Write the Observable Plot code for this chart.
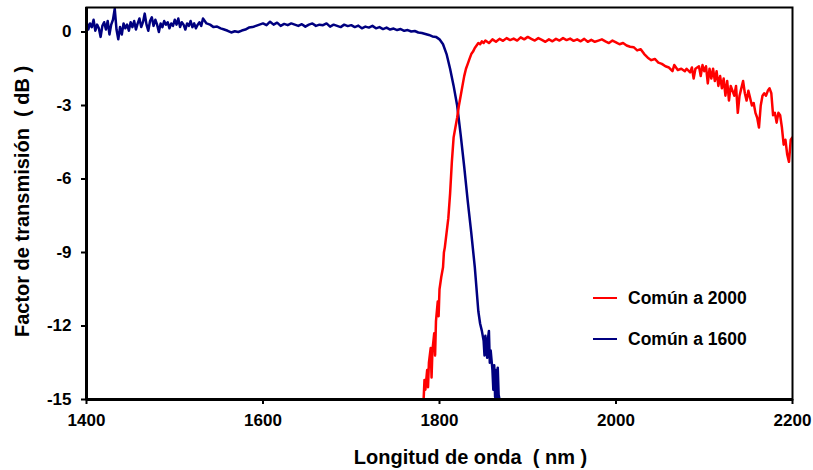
<!DOCTYPE html>
<html>
<head>
<meta charset="utf-8">
<script src="https://cdn.jsdelivr.net/npm/d3@7"></script>
<script src="https://cdn.jsdelivr.net/npm/@observablehq/plot@0.6"></script>
<style>
  html, body { margin: 0; padding: 0; background: white; }
  #wrap { position: relative; width: 813px; height: 470px; font-family: "Liberation Sans", Arial, sans-serif; font-weight: bold; }
  .leg { position: absolute; left: 593px; height: 20px; display: flex; align-items: center; font-size: 17.5px; color: #000; white-space: nowrap; }
  .leg span.sw { display: inline-block; width: 24px; height: 2.5px; margin-right: 11px; }
</style>
</head>
<body>
<div id="wrap"></div>
<script>
const seriesNames = ["Común a 2000", "Común a 1600"];
const xTicks = [1400, 1600, 1800, 2000, 2200];
const yTicks = [0, -3, -6, -9, -12, -15];
const xTitle = "Longitud de onda  ( nm )";
const yTitle = "Factor de transmisión  ( dB )";

// Común a 1600 (blue)
const blueX = [1400,1402,1404,1406,1408,1410,1412,1414,1416,1418,1420,1422,1424,1426,1428,1430,1432,1434,1436,1438,1440,1442,1444,1446,1448,1450,1452,1454,1456,1458,1460,1462,1464,1466,1468,1470,1472,1474,1476,1478,1480,1482,1484,1486,1488,1490,1492,1494,1496,1498,1500,1502,1504,1506,1508,1510,1512,1514,1516,1518,1520,1522,1524,1526,1528,1530,1532,1534,1536,1540,1544,1548,1552,1556,1560,1564,1568,1572,1576,1580,1584,1588,1592,1596,1600,1604,1608,1612,1616,1620,1624,1628,1632,1636,1640,1644,1648,1652,1656,1660,1664,1668,1672,1676,1680,1684,1688,1692,1696,1700,1704,1708,1712,1716,1720,1724,1728,1732,1736,1740,1744,1748,1752,1756,1760,1764,1768,1772,1776,1780,1784,1788,1792,1796,1800,1804,1808,1812,1816,1820,1824,1828,1832,1836,1840,1844,1846,1848,1850,1851,1852,1854,1855,1856,1857,1858,1860,1861,1862,1863,1864,1865,1866,1867,1868];
const blueY = [0.45,0.1,0.35,0.2,0.5,0.05,0.3,0.15,-0.2,0.25,0.4,0.1,0.45,-0.1,0.3,0.5,0.95,0.1,-0.3,0.2,-0.1,0.35,0.15,0.3,0.05,0.4,0.2,0.45,0.1,0.35,0.55,0.2,0.4,0.75,0.3,0.05,0.45,0.6,0.25,0.5,0.3,0.0,0.35,0.2,0.45,0.3,0.4,0.15,0.35,0.25,0.5,0.3,0.55,0.2,0.4,0.3,0.1,0.35,0.25,0.45,0.2,0.35,0.15,0.3,0.4,0.25,0.55,0.45,0.35,0.3,0.2,0.22,0.15,0.1,0.05,-0.02,0.03,0.0,0.06,0.1,0.18,0.2,0.25,0.3,0.35,0.28,0.42,0.3,0.38,0.25,0.33,0.28,0.35,0.3,0.25,0.32,0.22,0.3,0.35,0.25,0.3,0.28,0.35,0.22,0.3,0.25,0.2,0.3,0.24,0.28,0.2,0.26,0.15,0.22,0.18,0.25,0.15,0.2,0.12,0.18,0.1,0.14,0.08,0.12,0.05,0.08,0.02,0.04,-0.02,-0.04,-0.08,-0.12,-0.18,-0.2,-0.3,-0.5,-0.9,-1.5,-2.2,-3.0,-4.2,-5.5,-6.9,-8.2,-9.6,-11.4,-11.9,-12.2,-12.6,-13.2,-12.4,-13.3,-12.5,-12.2,-13.5,-13.0,-13.8,-14.6,-13.6,-14.9,-13.8,-15,-13.7,-14.8,-15];

// Común a 2000 (red)
const redX = [1782,1783,1784,1786,1787,1788,1790,1791,1792,1794,1795,1796,1798,1799,1800,1802,1804,1805,1806,1808,1810,1812,1814,1816,1818,1820,1822,1824,1826,1828,1830,1832,1834,1836,1838,1840,1842,1844,1846,1848,1850,1852,1856,1860,1864,1868,1872,1876,1880,1884,1888,1892,1896,1900,1904,1908,1912,1916,1920,1924,1928,1932,1936,1940,1944,1948,1952,1956,1960,1964,1968,1972,1976,1980,1984,1988,1992,1996,2000,2004,2008,2012,2016,2020,2024,2028,2032,2036,2040,2044,2048,2052,2056,2060,2064,2066,2070,2074,2078,2080,2084,2086,2088,2090,2094,2096,2098,2100,2102,2104,2106,2108,2110,2112,2114,2116,2118,2120,2122,2124,2126,2128,2130,2134,2136,2138,2140,2142,2144,2146,2148,2150,2152,2154,2156,2158,2160,2162,2164,2166,2168,2170,2172,2174,2176,2178,2180,2182,2184,2186,2188,2190,2192,2194,2196,2198,2200];
const redY = [-15,-14.2,-14.6,-13.8,-14.5,-13.5,-12.9,-14.1,-13.0,-12.3,-13.2,-11.8,-11.0,-11.6,-10.5,-10.0,-9.6,-9.0,-8.8,-8.2,-7.6,-6.6,-5.3,-4.3,-3.9,-3.5,-3.0,-2.6,-2.2,-1.8,-1.5,-1.3,-1.1,-0.9,-0.8,-0.65,-0.55,-0.45,-0.5,-0.38,-0.45,-0.35,-0.45,-0.3,-0.4,-0.28,-0.36,-0.25,-0.33,-0.27,-0.35,-0.22,-0.3,-0.2,-0.28,-0.35,-0.25,-0.32,-0.4,-0.3,-0.38,-0.28,-0.35,-0.25,-0.33,-0.27,-0.36,-0.3,-0.38,-0.28,-0.4,-0.32,-0.4,-0.35,-0.3,-0.38,-0.45,-0.35,-0.42,-0.5,-0.45,-0.55,-0.6,-0.62,-0.75,-0.7,-0.9,-1.05,-1.15,-1.1,-1.25,-1.3,-1.4,-1.45,-1.6,-1.35,-1.55,-1.5,-1.6,-1.5,-1.65,-1.45,-1.9,-1.5,-1.4,-1.8,-1.35,-1.6,-1.4,-2.1,-1.5,-1.9,-1.5,-2.0,-1.6,-2.2,-1.8,-2.3,-1.9,-2.6,-2.0,-2.8,-2.2,-2.6,-2.2,-3.3,-2.6,-2.3,-2.0,-2.5,-2.8,-2.4,-2.7,-3.0,-2.9,-3.3,-3.5,-3.9,-3.0,-2.6,-2.5,-2.6,-2.4,-2.3,-2.5,-3.4,-3.3,-3.7,-3.3,-3.4,-3.9,-4.6,-4.4,-5.0,-5.3,-4.4,-4.3];

const colors = ["#ff0000", "#000080"];
const red = redX.map((x, i) => ({x, y: redY[i]}));
const blue = blueX.map((x, i) => ({x, y: blueY[i]}));

const chart = Plot.plot({
  width: 813,
  height: 470,
  marginLeft: 86,
  marginRight: 21,
  marginTop: 7,
  marginBottom: 71,
  style: {fontFamily: "'Liberation Sans', Arial, sans-serif", fontSize: "17px", fontWeight: "bold", color: "#000", background: "white", overflow: "visible"},
  x: {domain: [1400, 2200], label: null},
  y: {domain: [-15, 1], label: null},
  marks: [
    Plot.line(blue, {x: "x", y: "y", stroke: colors[1], strokeWidth: 2.5, clip: true}),
    Plot.line(red, {x: "x", y: "y", stroke: colors[0], strokeWidth: 2.5, clip: true}),
    Plot.frame({stroke: "#000", strokeWidth: 2}),
    Plot.axisX({ticks: xTicks, tickSize: 5, tickPadding: 9, tickFormat: d => String(d), strokeWidth: 2, label: null}),
    Plot.axisY({ticks: yTicks, tickSize: 5, tickPadding: 10, tickFormat: d => String(d), strokeWidth: 2, label: null}),
    Plot.ruleX([1400], {strokeWidth: 3, stroke: "#000"}),
    Plot.ruleY([-15], {strokeWidth: 3, stroke: "#000"}),
    Plot.text([xTitle], {frameAnchor: "bottom", textAnchor: "middle", lineAnchor: "bottom", dx: 31, dy: 64, fontSize: 20, fontWeight: "bold", fill: "#000"}),
    Plot.text([yTitle], {frameAnchor: "left", textAnchor: "middle", rotate: -90, dx: -64, dy: -2, fontSize: 20, fontWeight: "bold", fill: "#000"})
  ]
});

const wrap = document.getElementById("wrap");
wrap.appendChild(chart);

const legTops = [288, 329];
seriesNames.forEach((name, i) => {
  const row = document.createElement("div");
  row.className = "leg";
  row.style.top = legTops[i] + "px";
  const sw = document.createElement("span");
  sw.className = "sw";
  sw.style.background = colors[i];
  row.appendChild(sw);
  row.appendChild(document.createTextNode(name));
  wrap.appendChild(row);
});
</script>
</body>
</html>
